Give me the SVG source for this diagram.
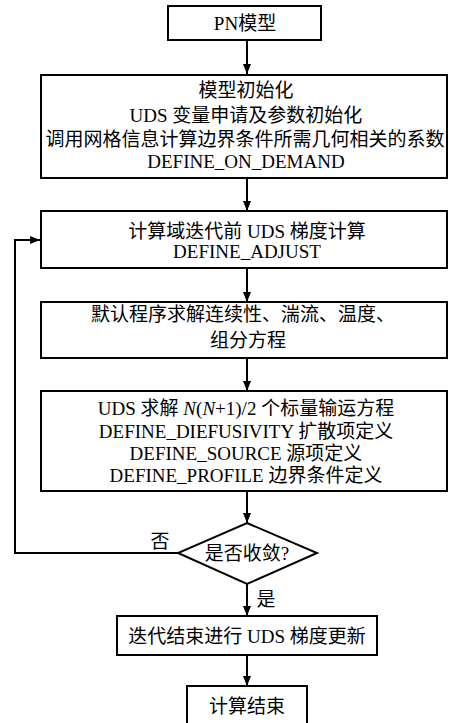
<svg xmlns="http://www.w3.org/2000/svg" width="449" height="723" viewBox="0 0 449 723">
<defs>
<marker id="ah" viewBox="0 0 10 8" refX="10" refY="4" markerWidth="10" markerHeight="8" markerUnits="userSpaceOnUse" orient="auto">
<path d="M0,0 L10,4 L0,8 Z" fill="#000"/>
</marker>
<style>
.b{fill:#fff;stroke:#000;stroke-width:2}
.t{font-family:"Liberation Serif","Noto Sans CJK SC",serif;font-size:19px;fill:#000;text-anchor:middle}
.c line,.c polyline{stroke:#000;stroke-width:2;fill:none;marker-end:url(#ah)}
</style>
</defs>
<rect width="449" height="723" fill="#fff"/>
<g class="c" id="connectors">
<line x1="247" y1="40" x2="247" y2="74"/>
<line x1="247" y1="178" x2="247" y2="211"/>
<line x1="247" y1="268" x2="247" y2="302"/>
<line x1="247" y1="358" x2="247" y2="391"/>
<line x1="247" y1="491" x2="247" y2="523"/>
<line x1="247" y1="584" x2="247" y2="616"/>
<line x1="247" y1="655" x2="247" y2="686"/>
<polyline points="178,553 15,553 15,240 40,240"/>
</g>
<g id="n1"><rect class="b" x="168" y="6" width="153" height="34"/><text class="t" x="245" y="30">PN模型</text></g>
<g id="n2"><rect class="b" x="41" y="75" width="406" height="103"/>
<text class="t" x="246" y="97">模型初始化</text>
<text class="t" x="246" y="122">UDS 变量申请及参数初始化</text>
<text class="t" x="245" y="146">调用网格信息计算边界条件所需几何相关的系数</text>
<text class="t" x="246" y="168">DEFINE_ON_DEMAND</text></g>
<g id="n3"><rect class="b" x="41" y="211" width="406" height="57"/>
<text class="t" x="247" y="238">计算域迭代前 UDS 梯度计算</text>
<text class="t" x="247" y="258">DEFINE_ADJUST</text></g>
<g id="n4"><rect class="b" x="41" y="302" width="406" height="56"/>
<text class="t" x="243" y="321">默认程序求解连续性、湍流、温度、</text>
<text class="t" x="248" y="347">组分方程</text></g>
<g id="n5"><rect class="b" x="41" y="391" width="406" height="100"/>
<text class="t" x="246" y="415">UDS 求解 <tspan font-style="italic">N</tspan>(<tspan font-style="italic">N</tspan>+1)/2 个标量输运方程</text>
<text class="t" x="246" y="438">DEFINE_DIEFUSIVITY 扩散项定义</text>
<text class="t" x="246" y="460">DEFINE_SOURCE 源项定义</text>
<text class="t" x="246" y="482">DEFINE_PROFILE 边界条件定义</text></g>
<g id="n6"><polygon class="b" points="247,523 317,553 247,584 178,553"/>
<text class="t" x="247" y="560">是否收敛?</text></g>
<text class="t" x="160" y="548">否</text>
<text class="t" x="266" y="606">是</text>
<g id="n7"><rect class="b" x="117" y="616" width="260" height="39"/>
<text class="t" x="247" y="643">迭代结束进行 UDS 梯度更新</text></g>
<g id="n8"><rect class="b" x="187" y="686" width="120" height="40"/>
<text class="t" x="247" y="713">计算结束</text></g>
</svg>
